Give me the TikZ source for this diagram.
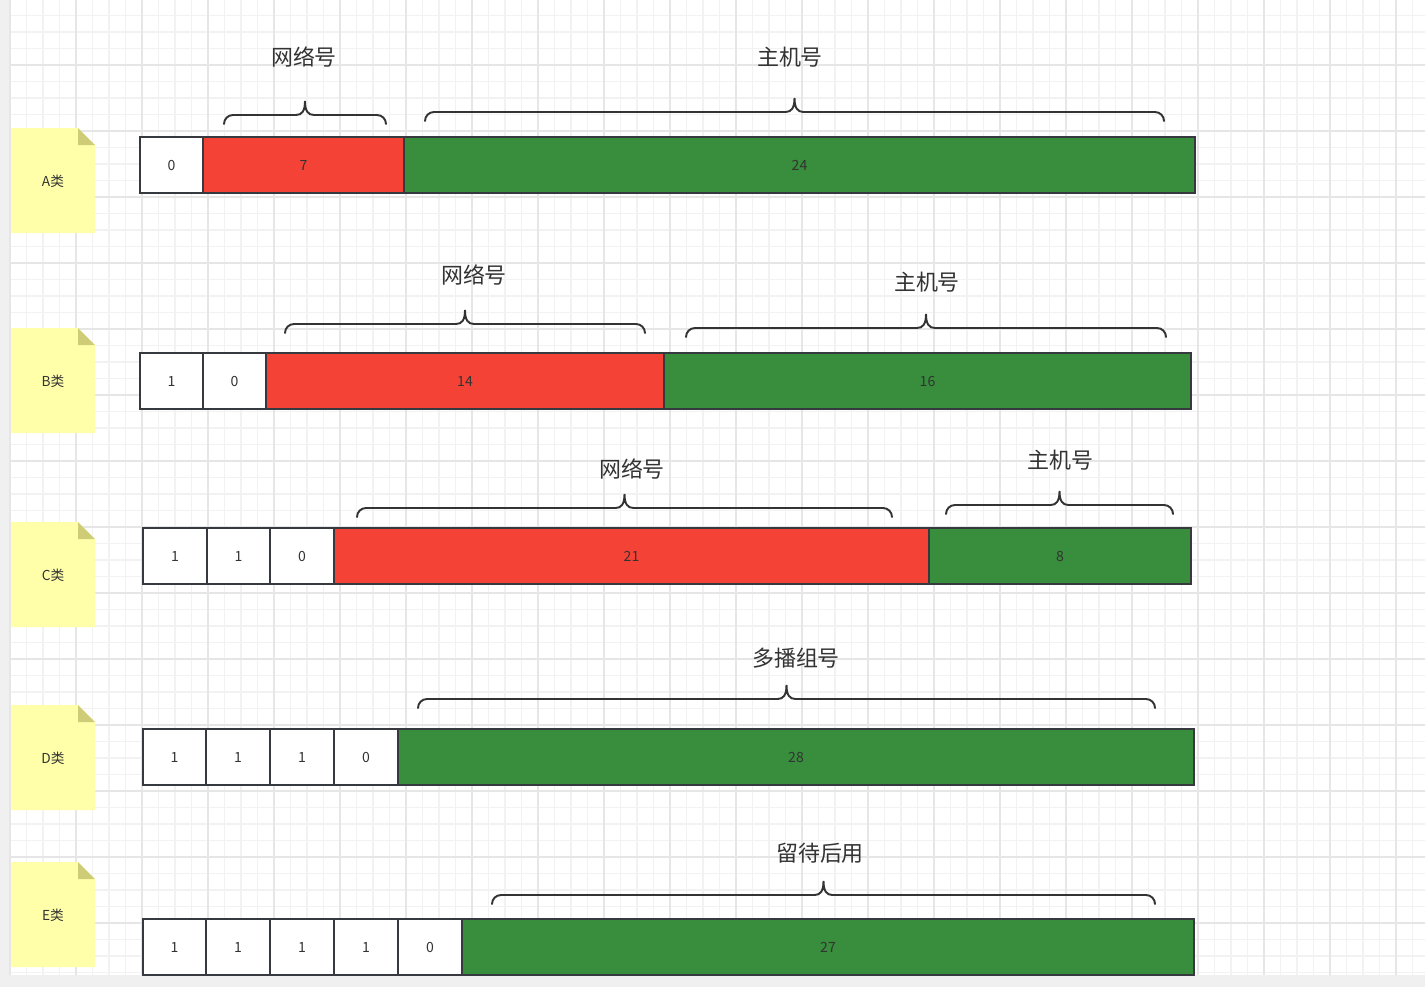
\documentclass[tikz,border=0pt]{standalone}
\usepackage{fontspec}
\newfontfamily\cjk{Noto Sans CJK SC}
\definecolor{netred}{HTML}{F44336}
\definecolor{hostgreen}{HTML}{388E3C}
\definecolor{cellline}{HTML}{36393D}
\definecolor{notefill}{HTML}{FFFFAA}
\definecolor{notefold}{HTML}{CFCC77}
\definecolor{gridminor}{HTML}{F2F2F2}
\definecolor{gridmajor}{HTML}{E6E6E6}
\definecolor{edgegray}{HTML}{F0F0F0}
\definecolor{labelgray}{HTML}{333333}
\tikzset{
  bitbox/.style={draw=cellline, line width=1.1pt},
  bitlabel/.style={inner sep=0pt, font=\cjk\fontsize{8}{10}\selectfont},
  fieldlabel/.style={inner sep=0pt, font=\cjk\fontsize{12.5}{15}\selectfont},
  classlabel/.style={inner sep=0pt, font=\cjk\fontsize{7.8}{9}\selectfont},
  bracepath/.style={draw=labelgray, line width=1.1pt, line cap=round}
}
% one cell of an address: name, left, right, top, fill, text
\newcommand{\bitcell}[6]{%
  \draw[bitbox, fill=#5] (#2,#4) rectangle (#3,#4+56);
  \node[bitlabel] (#1) at ({(#2+#3)/2},#4+28) {#6};}
% brace over a field: left, right, height of its bar
\newcommand{\fieldbrace}[3]{%
  \draw[bracepath] (#1,#3+9) .. controls (#1,#3+4) and (#1+4,#3) .. (#1+9,#3)
    -- ({(#1+#2)/2-9},#3) .. controls ({(#1+#2)/2-3},#3) and ({(#1+#2)/2},#3-4) .. ({(#1+#2)/2},#3-14)
    .. controls ({(#1+#2)/2},#3-4) and ({(#1+#2)/2+3},#3) .. ({(#1+#2)/2+9},#3)
    -- (#2-9,#3) .. controls (#2-4,#3) and (#2,#3+4) .. (#2,#3+9);}

\begin{document}
\begin{tikzpicture}[x=0.02cm, y=-0.02cm, text=labelgray]
        \useasboundingbox (0,0) rectangle (1425,987);
        % Canvas
        \fill[white] (0,0) rectangle (1425,987);
        \fill[edgegray] (0,0) rectangle (10,987);
        \fill[edgegray] (0,975) rectangle (1425,987);
        % Grid
        \foreach \k in {0,...,85} {
          \draw[gridminor, line width=0.6pt] ({10+16.5*\k},0) -- ({10+16.5*\k},975);
        }
        \foreach \k in {1,...,59} {
          \draw[gridminor, line width=0.6pt] (10,{-1+16.5*\k}) -- (1425,{-1+16.5*\k});
        }
        \foreach \k in {0,...,21} {
          \draw[gridmajor, line width=0.6pt] ({10+66*\k},0) -- ({10+66*\k},975);
        }
        \foreach \k in {1,...,14} {
          \draw[gridmajor, line width=0.6pt] (10,{-1+66*\k}) -- (1425,{-1+66*\k});
        }
        % Class notes (left side)
        \foreach \ny/\cls in {128/A,328/B,522/C,705/D,862/E} {
          \fill[notefill] (11,\ny) -- (78,\ny) -- (95,\ny+17) -- (95,\ny+105) -- (11,\ny+105) -- cycle;
          \fill[notefold] (78,\ny) -- (95,\ny+17) -- (78,\ny+17) -- cycle;
          \node[classlabel] (class\cls) at (53,\ny+53) {\cls 类};
        }
        % Class A
        \bitcell{a0}{140}{203}{137}{white}{0}
        \bitcell{a7}{203}{404}{137}{netred}{7}
        \bitcell{a24}{404}{1195}{137}{hostgreen}{24}
        \fieldbrace{224}{386}{115}
        \fieldbrace{425}{1164}{112}
        \node[fieldlabel] (netA) at (304,57) {网络号};
        \node[fieldlabel] (hostA) at (790,57) {主机号};
        % Class B
        \bitcell{b1}{140}{203}{353}{white}{1}
        \bitcell{b0}{203}{266}{353}{white}{0}
        \bitcell{b14}{266}{664}{353}{netred}{14}
        \bitcell{b16}{664}{1191}{353}{hostgreen}{16}
        \fieldbrace{285}{645}{324}
        \fieldbrace{686}{1166}{328}
        \node[fieldlabel] (netB) at (474,275) {网络号};
        \node[fieldlabel] (hostB) at (927,282) {主机号};
        % Class C
        \bitcell{c1}{143}{207}{528}{white}{1}
        \bitcell{c2}{207}{270}{528}{white}{1}
        \bitcell{c0}{270}{334}{528}{white}{0}
        \bitcell{c21}{334}{929}{528}{netred}{21}
        \bitcell{c8}{929}{1191}{528}{hostgreen}{8}
        \fieldbrace{357}{892}{508}
        \fieldbrace{946}{1173}{505}
        \node[fieldlabel] (netC) at (632,469) {网络号};
        \node[fieldlabel] (hostC) at (1060,460) {主机号};
        % Class D
        \bitcell{d1}{143}{206}{729}{white}{1}
        \bitcell{d2}{206}{270}{729}{white}{1}
        \bitcell{d3}{270}{334}{729}{white}{1}
        \bitcell{d0}{334}{398}{729}{white}{0}
        \bitcell{d28}{398}{1194}{729}{hostgreen}{28}
        \fieldbrace{418}{1155}{699}
        \node[fieldlabel] (groupD) at (796,658) {多播组号};
        % Class E
        \bitcell{e1}{143}{206}{919}{white}{1}
        \bitcell{e2}{206}{270}{919}{white}{1}
        \bitcell{e3}{270}{334}{919}{white}{1}
        \bitcell{e4}{334}{398}{919}{white}{1}
        \bitcell{e0}{398}{462}{919}{white}{0}
        \bitcell{e27}{462}{1194}{919}{hostgreen}{27}
        \fieldbrace{492}{1155}{895}
        \node[fieldlabel] (reserveE) at (820,853) {留待后用};
      \end{tikzpicture}
\end{document}
